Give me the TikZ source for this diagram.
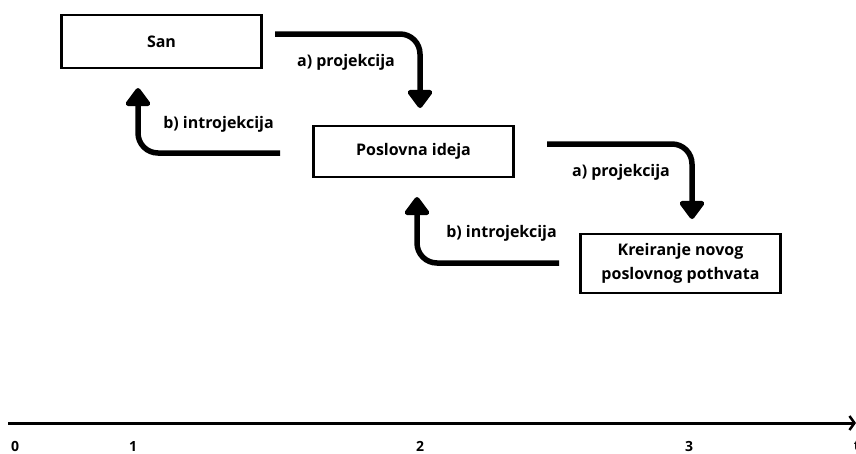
\documentclass[tikz,border=0pt]{standalone}
\usepackage{fontspec}
\setmainfont{Open Sans}
\usetikzlibrary{arrows.meta}
\begin{document}
\begin{tikzpicture}[x=1pt,y=-1pt,
  box/.style={draw=black,line width=2.6pt,minimum width=200pt,inner sep=0pt,font=\bfseries\fontsize{16}{23.5}\selectfont,align=center},
  flow/.style={line width=5.5pt,rounded corners=20pt,-{Triangle[width=28pt,length=20pt,round]}},
  lbl/.style={font=\bfseries\fontsize{16}{18}\selectfont,inner sep=0pt},
  tick/.style={font=\bfseries\fontsize{14}{16}\selectfont,inner sep=0pt}]
\useasboundingbox (0,0) rectangle (856,453);
\node[box,minimum height=53pt] (san) at (161.5,41.5) {San};
\node[box,minimum height=51pt] (ideja) at (413.5,151.5) {Poslovna ideja};
\node[box,minimum height=59pt] (kreir) at (680.5,263.5) {Kreiranje novog\\poslovnog pothvata};
% arrows
\coordinate (a1s) at (275,34);
\coordinate (a1e) at (420,108);
\draw[flow] (a1s) -| (a1e);
\node[lbl] (la1) at (346,62) {a) projekcija};
\coordinate (b1s) at (280,153);
\coordinate (b1e) at (138,88);
\draw[flow] (b1s) -| (b1e);
\node[lbl] (lb1) at (218.5,124) {b) introjekcija};
\coordinate (a2s) at (547,144);
\coordinate (a2e) at (692,219);
\draw[flow] (a2s) -| (a2e);
\node[lbl] (la2) at (621,172) {a) projekcija};
\coordinate (b2s) at (559,263);
\coordinate (b2e) at (417,197);
\draw[flow] (b2s) -| (b2e);
\node[lbl] (lb2) at (501.5,233) {b) introjekcija};
% axis
\coordinate (ax0) at (8,423);
\coordinate (ax1) at (856,423);
\draw[line width=3pt,-{Straight Barb[length=5pt,width=14pt,line width=2.5pt]}] (ax0) -- (ax1);
\node[tick] (t0) at (15,446) {0};
\node[tick] (t1) at (133,446) {1};
\node[tick] (t2) at (420,446) {2};
\node[tick] (t3) at (689,446) {3};
\node[tick] (tt) at (857,446) {t};
\end{tikzpicture}
\end{document}
